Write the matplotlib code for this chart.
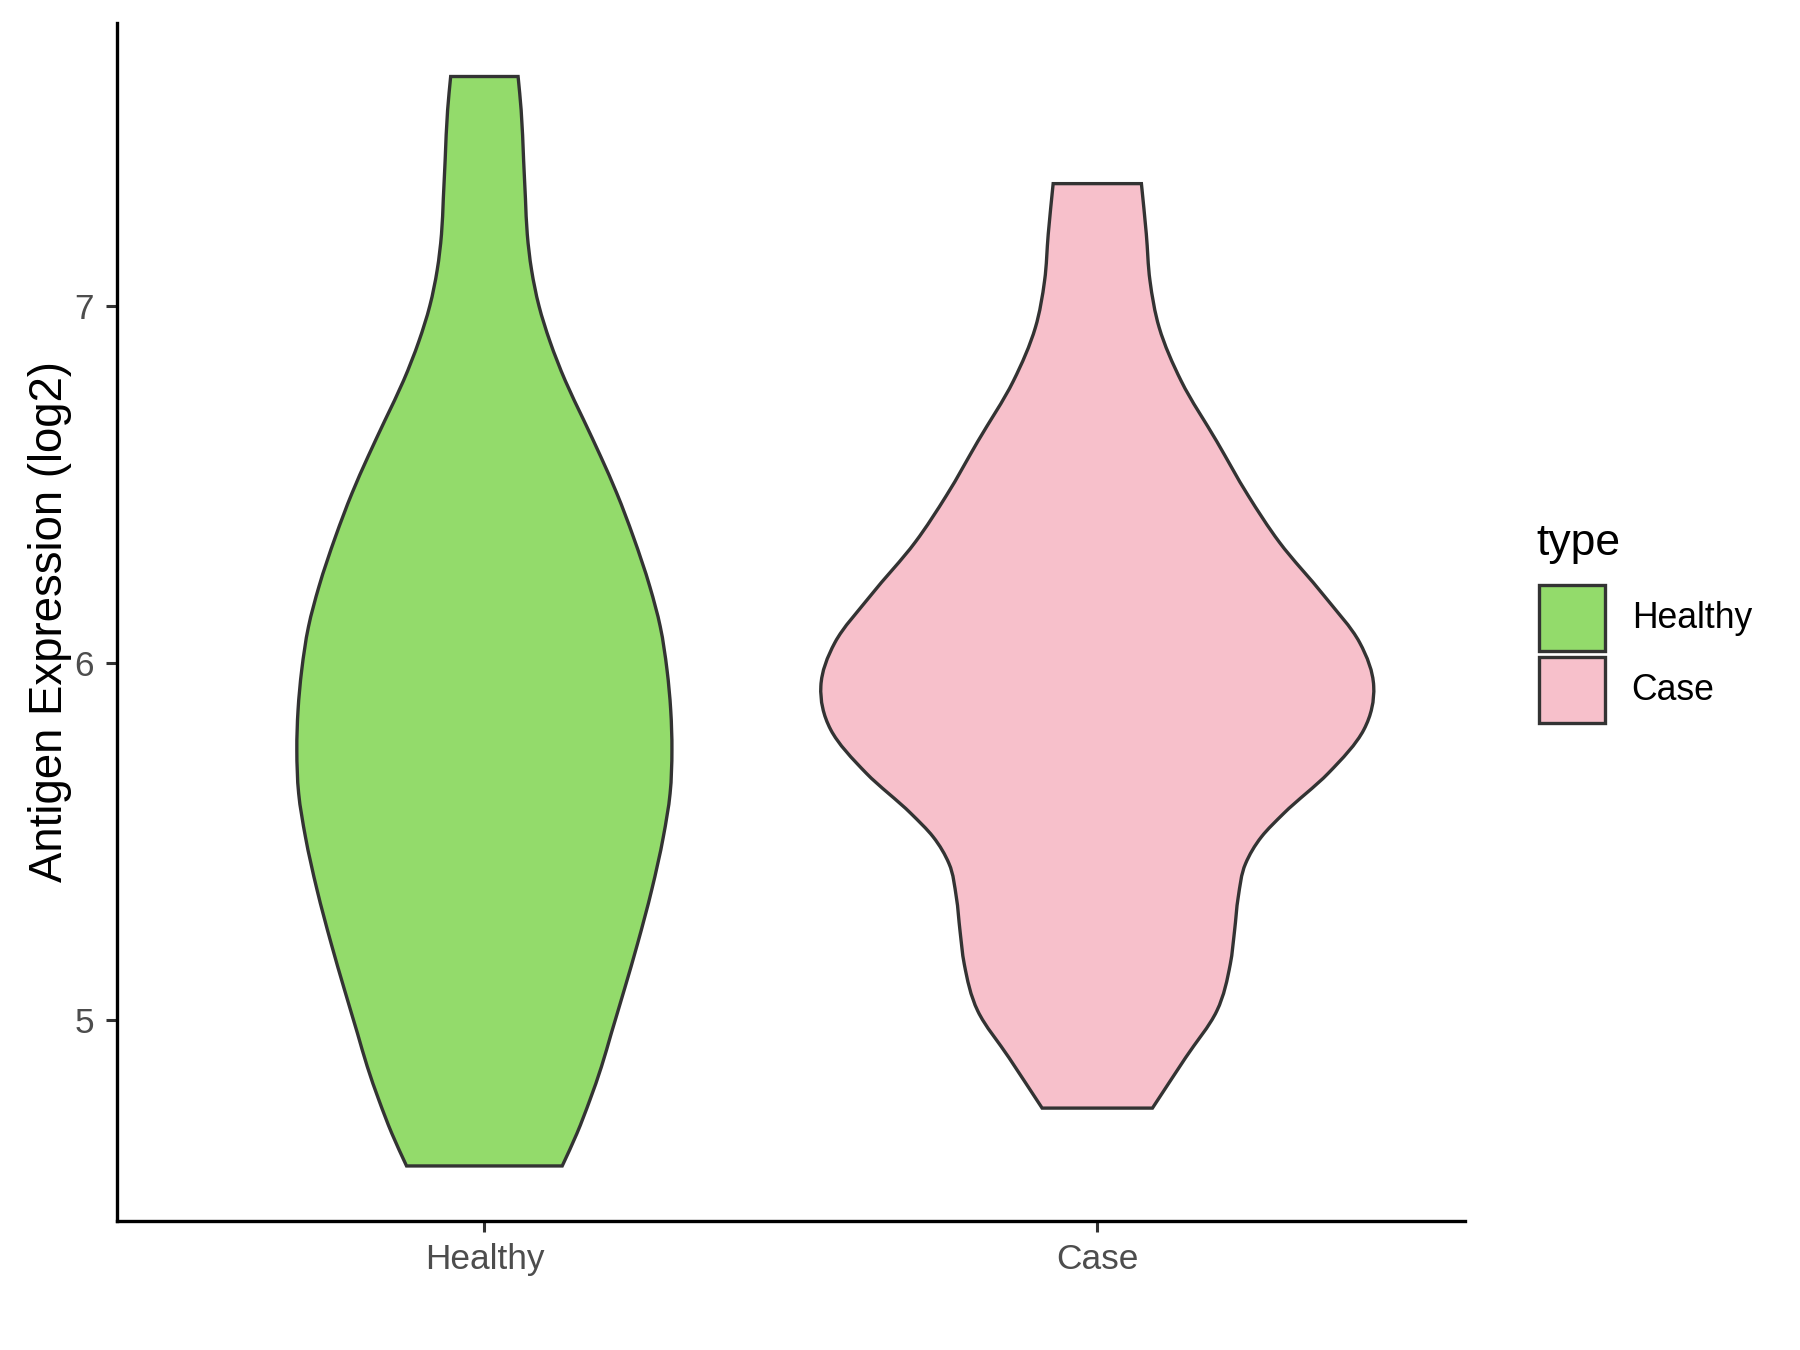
import numpy as np
import matplotlib
matplotlib.use("Agg")
import matplotlib.pyplot as plt
from matplotlib.path import Path
from matplotlib.patches import PathPatch, Rectangle

plt.rcParams['font.family'] = ['Liberation Sans', 'DejaVu Sans']

# ---- data ----
categories = ["Healthy", "Case"]
colors = ["#93DB6B", "#F7C0CB"]
edge_color = "#333333"

# violin outlines: y value and half-width (in x data units), bottom -> top
healthy_y = [4.591, 4.682, 4.775, 4.869, 4.962, 5.083, 5.214, 5.364, 5.513, 5.634,
             5.756, 5.868, 5.980, 6.101, 6.213, 6.353, 6.475, 6.577, 6.680, 6.790,
             6.900, 7.000, 7.100, 7.200, 7.300, 7.408, 7.548, 7.642]
healthy_hw = [0.127, 0.151, 0.172, 0.191, 0.207, 0.228, 0.250, 0.273, 0.292, 0.303,
              0.306, 0.304, 0.298, 0.287, 0.270, 0.243, 0.216, 0.190, 0.162, 0.132,
              0.107, 0.089, 0.077, 0.070, 0.067, 0.064, 0.060, 0.055]

case_y = [4.753, 4.894, 5.025, 5.156, 5.250, 5.344, 5.438, 5.513, 5.578, 5.691,
          5.813, 5.935, 6.057, 6.188, 6.338, 6.469, 6.620, 6.789, 6.939, 7.070,
          7.201, 7.342]
case_hw = [0.090, 0.144, 0.195, 0.217, 0.224, 0.230, 0.242, 0.268, 0.304, 0.377,
           0.435, 0.451, 0.428, 0.370, 0.297, 0.246, 0.195, 0.137, 0.101, 0.086,
           0.080, 0.072]

y_ticks = [5, 6, 7]
y_label = "Antigen Expression (log2)"
legend_title = "type"

profiles = [(healthy_y, healthy_hw), (case_y, case_hw)]


def hermite_side(ys, xs):
    """Bezier segments for a smooth curve x(y) through the read points."""
    ys = np.asarray(ys, float)
    xs = np.asarray(xs, float)
    n = len(ys)
    h = np.diff(ys)
    d = np.diff(xs) / h
    m = np.empty(n)
    m[0], m[-1] = d[0], d[-1]
    for i in range(1, n - 1):
        m[i] = (d[i - 1] * h[i] + d[i] * h[i - 1]) / (h[i - 1] + h[i])
    verts, codes = [], []
    for i in range(n - 1):
        verts += [(xs[i] + m[i] * h[i] / 3, ys[i] + h[i] / 3),
                  (xs[i + 1] - m[i + 1] * h[i] / 3, ys[i + 1] - h[i] / 3),
                  (xs[i + 1], ys[i + 1])]
        codes += [Path.CURVE4] * 3
    return verts, codes


fig = plt.figure(figsize=(9, 6.75), dpi=200)
ax = fig.add_axes([0.0648, 0.0956, 0.8139 - 0.0648, 0.983 - 0.0956])

for i, ((ys, hws), col) in enumerate(zip(profiles, colors)):
    c = i + 1
    ys = np.asarray(ys, float)
    hws = np.asarray(hws, float)
    verts = [(c - hws[0], ys[0]), (c + hws[0], ys[0])]
    codes = [Path.MOVETO, Path.LINETO]
    v, cd = hermite_side(ys, c + hws)
    verts += v
    codes += cd
    verts.append((c - hws[-1], ys[-1]))
    codes.append(Path.LINETO)
    v, cd = hermite_side(ys[::-1], (c - hws)[::-1])
    verts += v
    codes += cd
    verts.append((c - hws[0], ys[0]))
    codes.append(Path.CLOSEPOLY)
    patch = PathPatch(Path(verts, codes), facecolor=col, edgecolor=edge_color,
                      linewidth=1.2, joinstyle='miter', zorder=2)
    ax.add_patch(patch)

ax.set_xlim(0.4, 2.6)
ax.set_ylim(4.437, 7.792)
ax.set_xticks([1, 2])
ax.set_xticklabels(categories)
ax.set_yticks(y_ticks)
ax.set_yticklabels([str(t) for t in y_ticks])

for s in ["top", "right"]:
    ax.spines[s].set_visible(False)
for s in ["left", "bottom"]:
    ax.spines[s].set_linewidth(1.2)
    ax.spines[s].set_color("black")

ax.tick_params(axis='both', length=3.9, width=1.1, color="#333333",
               labelsize=12.7, labelcolor="#4D4D4D", pad=4.2)

ax.set_ylabel(y_label, fontsize=16.4, color="black")
ax.yaxis.set_label_coords(-0.0331, 0.5)

# ---- legend (ggplot style) ----
W, H = 1800.0, 1350.0
fig.text(1536.7 / W, 1 - 555 / H, legend_title, fontsize=16, color="black",
         ha="left", va="baseline")
key_x0, key_x1 = 1538.5, 1604.5
key_rows = [(585.0, 651.0), (657.0, 723.0)]
for (y0, y1), col, lab in zip(key_rows, colors, categories):
    rect = Rectangle((key_x0 / W, 1 - y1 / H), (key_x1 - key_x0) / W, (y1 - y0) / H,
                     transform=fig.transFigure, facecolor=col, edgecolor=edge_color,
                     linewidth=1.2)
    fig.add_artist(rect)
    fig.text(1631.7 / W, 1 - ((y0 + y1) / 2) / H, lab, fontsize=12.8, color="black",
             ha="left", va="center")

fig.savefig("out.png", dpi=200, facecolor="white")
